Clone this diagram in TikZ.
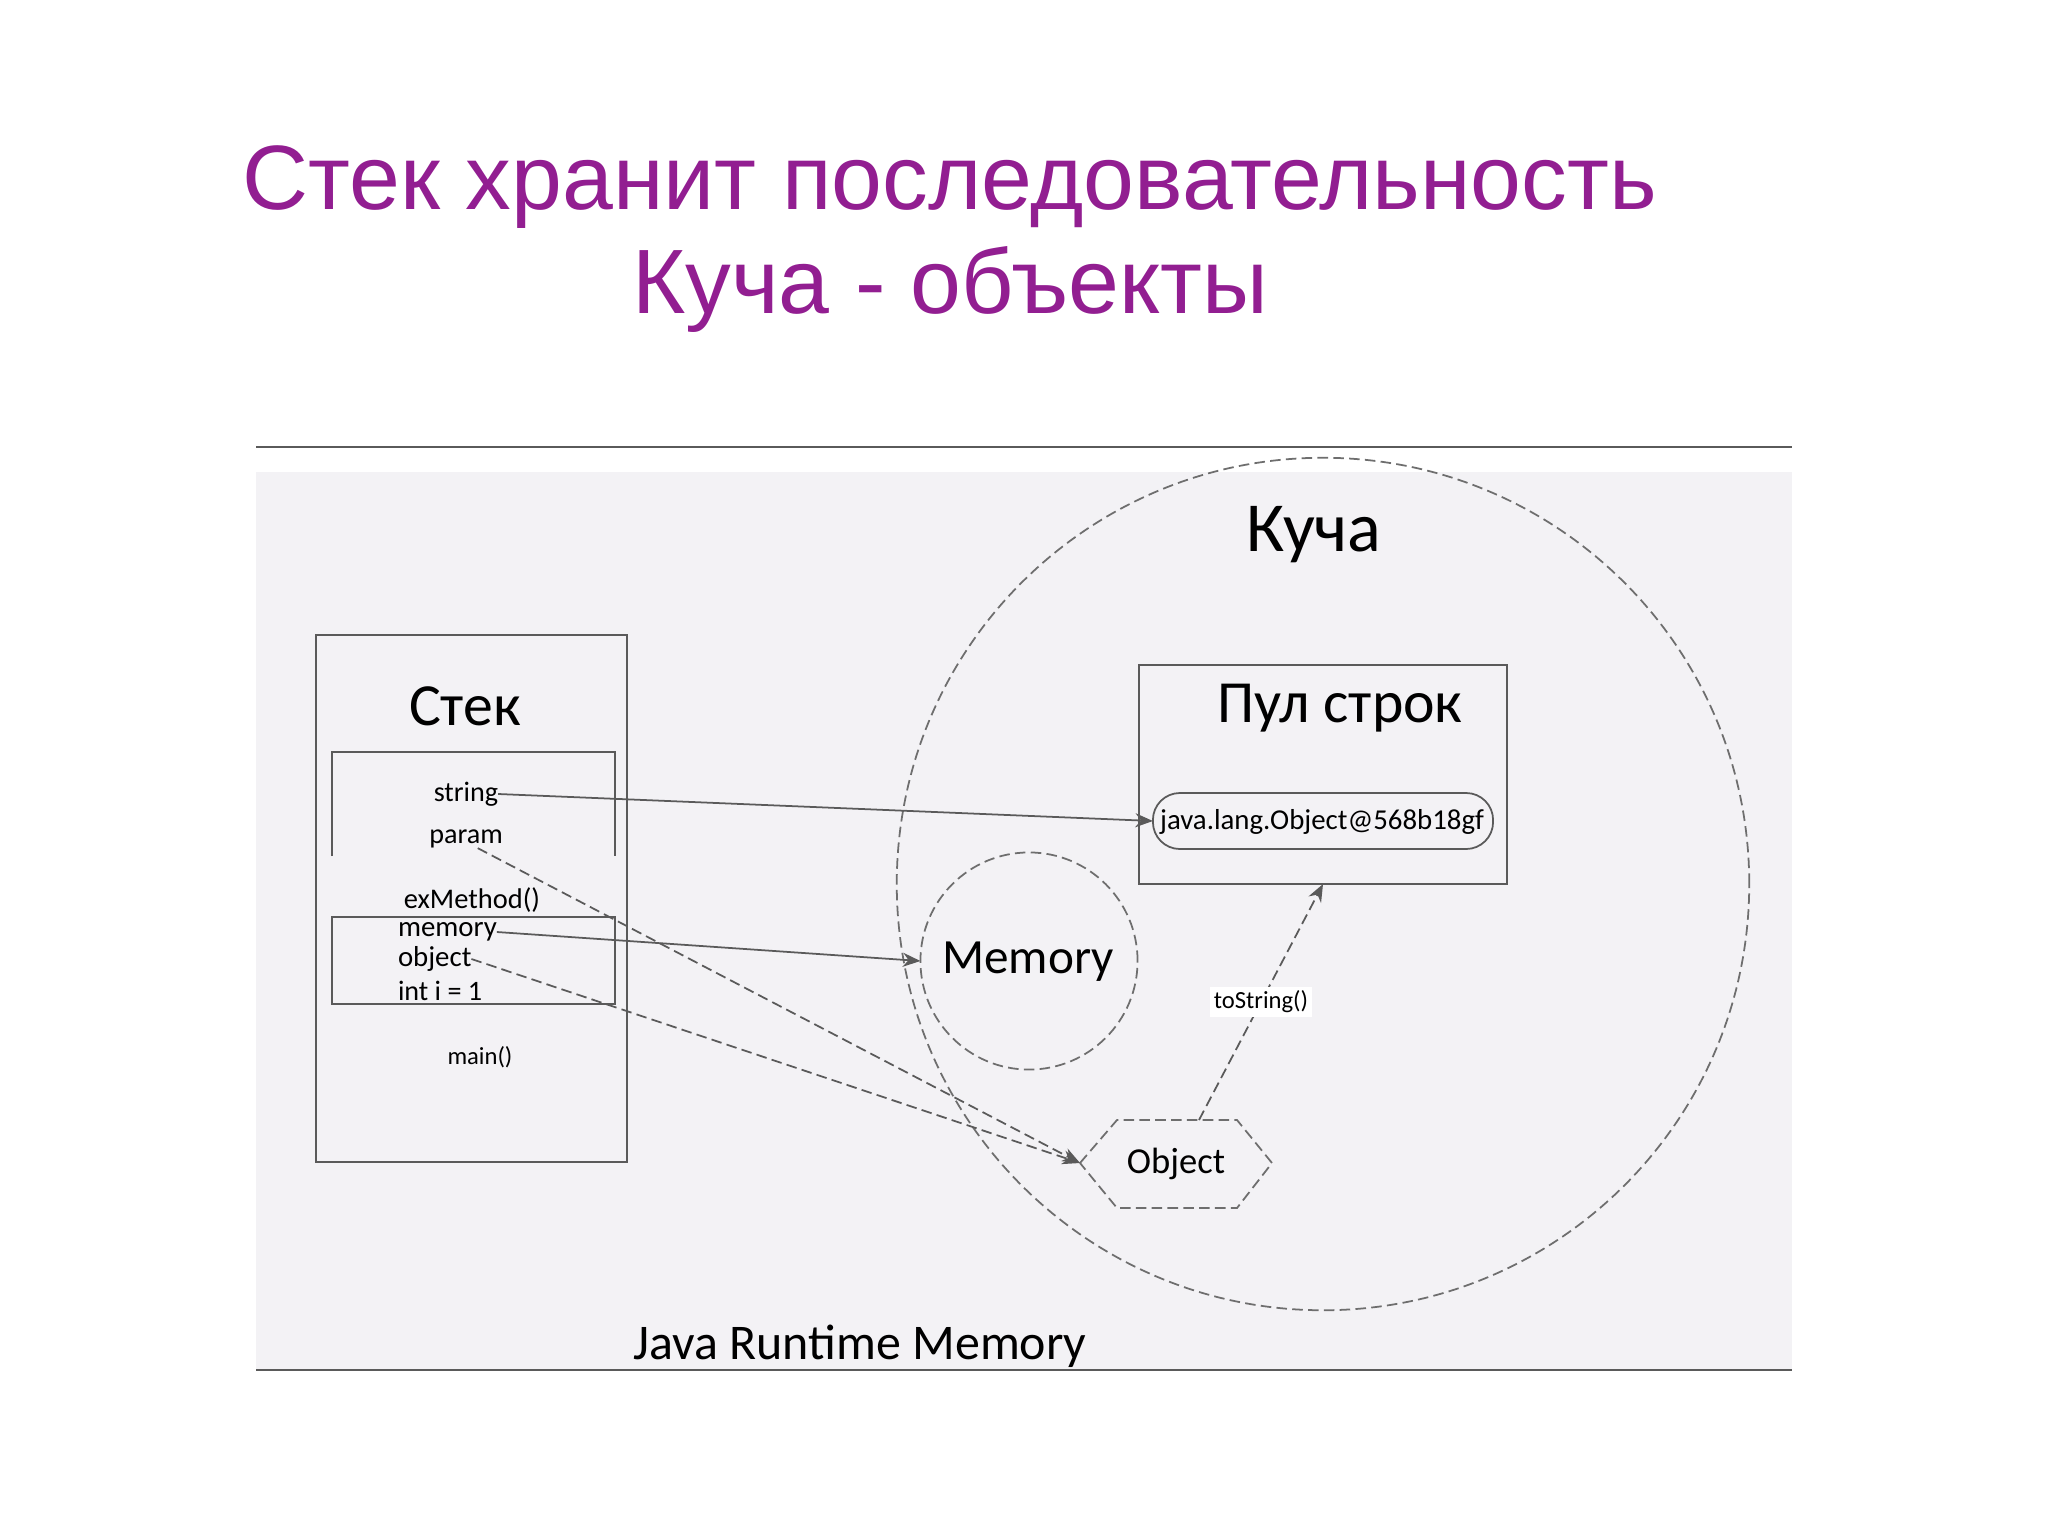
\documentclass[tikz,border=0pt]{standalone}
\usepackage{fontspec}
\setmainfont{Carlito}
\newfontfamily\titlefont{Liberation Sans}
\usetikzlibrary{arrows.meta}
\definecolor{titlepurple}{RGB}{146,30,145}
\definecolor{linegray}{RGB}{90,90,90}
\definecolor{dashgray}{RGB}{110,110,110}
\definecolor{bggray}{RGB}{243,242,245}
\newcommand{\myfs}[1]{\fontsize{#1}{1.2\dimexpr#1\relax}\selectfont}
\tikzset{
  boxline/.style={draw=linegray, line width=0.6pt},
  dashline/.style={draw=dashgray, line width=0.5pt, dash pattern=on 3pt off 1.5pt},
  conn/.style={draw=linegray, line width=0.5pt, -{Stealth[length=5pt,width=4pt]}},
  dconn/.style={conn, dash pattern=on 3pt off 1.5pt},
  lbl/.style={inner sep=0pt, outer sep=0pt, text=black},
  shp/.style={inner sep=0pt, outer sep=0pt},
}
\begin{document}
\begin{tikzpicture}[x=0.01cm, y=-0.01cm]
\useasboundingbox (0,0) rectangle (2048,1536);
\fill[white] (0,0) rectangle (2048,1536);
% title
\node[anchor=base, text=titlepurple, inner sep=0pt] (title1) at (950,209) {\titlefont\myfs{26pt}Стек хранит последовательность};
\node[anchor=base, text=titlepurple, inner sep=0pt] (title2) at (950,313) {\titlefont\myfs{26pt}Куча - объекты};
% frame
\fill[bggray] (256,472) rectangle (1792,1370);
\draw[draw=linegray, line width=0.6pt] (256,447) -- (1792,447);
\draw[draw=linegray, line width=0.7pt] (256,1370) -- (1792,1370);
% heap
\node[shp, circle, dashline, minimum size=8.52cm] (heap) at (1323,884) {};
\node[lbl] (kucha) at (1314,535) {\myfs{20pt}Куча};
% stack
\node[shp, rectangle, boxline, minimum width=3.11cm, minimum height=5.27cm] (stack) at (471.5,898.5) {};
\node[lbl] (stacklbl) at (465,706) {\myfs{17pt}Стек};
\draw[boxline] (332,856) -- (332,752) -- (615,752) -- (615,856);
\node[shp, rectangle, boxline, minimum width=2.83cm, minimum height=0.87cm] (frame2) at (473.5,960.5) {};
\node[lbl] (string) at (466,794) {\myfs{8pt}string};
\node[lbl] (param) at (466,839) {\myfs{8pt}param};
\node[lbl] (exm) at (472,900) {\myfs{8.1pt}exMethod()};
\node[lbl, anchor=west] (memory) at (398,932) {\myfs{8.2pt}memory};
\node[lbl, anchor=west] (object) at (398,959) {\myfs{8.2pt}object};
\node[lbl, anchor=west] (inti) at (398,991) {\myfs{8pt}int i = 1};
\node[lbl] (mainm) at (480,1057) {\myfs{7pt}main()};
% string pool
\node[shp, rectangle, boxline, minimum width=3.68cm, minimum height=2.19cm] (pool) at (1323,774.5) {};
\node[lbl] (poollbl) at (1340,708) {\myfs{17pt}Пул строк};
\node[shp, rectangle, rounded corners=0.27cm, draw=linegray, line width=0.5pt, minimum width=3.40cm, minimum height=0.56cm] (jrect) at (1323,821) {};
\node[lbl] (jtext) at (1322,822) {\myfs{8.2pt}java.lang.Object@568b18gf};
% memory circle
\node[shp, circle, dashline, minimum size=2.17cm] (memcirc) at (1029,961) {};
\node[lbl] (memlbl) at (1028,962) {\myfs{14pt}Memory};
% object hexagon
\coordinate (hexL) at (1080,1163);
\coordinate (hexT) at (1199,1120);
\draw[dashline] (hexL) -- (1117,1120) -- (1237,1120) -- (1272,1163) -- (1237,1208) -- (1117,1208) -- cycle;
\node[lbl] (objlbl) at (1176,1164) {\myfs{10.4pt}Object};
% runtime label
\node[lbl] (jrm) at (860,1346) {\myfs{14.2pt}Java Runtime Memory};
% connectors
\draw[conn] (string.east) -- (jrect.west);
\draw[dconn] ([xshift=-0.25cm]param.south east) -- (hexL);
\draw[conn] (memory.east) -- (memcirc.west);
\draw[dconn] (object.east) -- (hexL);
\draw[dconn] (hexT) -- node[midway, fill=white, inner sep=1pt, text=black] (tostr) {\myfs{7pt}toString()} (pool.south);
\end{tikzpicture}
\end{document}
